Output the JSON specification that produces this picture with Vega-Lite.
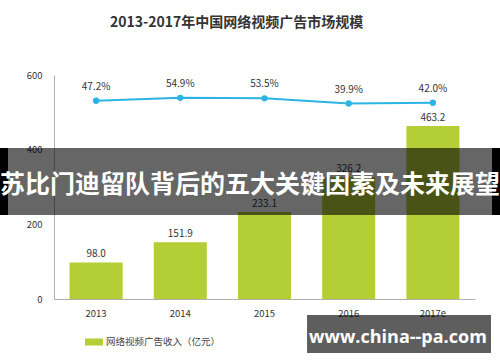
{
  "$schema": "https://vega.github.io/schema/vega-lite/v6.json",
  "width": 421,
  "height": 224,
  "autosize": {"type": "none"},
  "padding": {"left": 54, "top": 75, "right": 25, "bottom": 63},
  "background": "white",
  "config": {"view": {"stroke": null}, "font": "Noto Sans CJK SC"},
  "title": {"text": "2013-2017年中国网络视频广告市场规模", "anchor": "start", "frame": "group", "dx": 56, "offset": 40, "fontSize": 14, "fontWeight": "bold", "color": "#333333", "font": "Noto Sans CJK SC"},
  "datasets": {
    "main": [
      {"year": "2013", "revenue": 98.0, "growth": 0.472},
      {"year": "2014", "revenue": 151.9, "growth": 0.549},
      {"year": "2015", "revenue": 233.1, "growth": 0.535},
      {"year": "2016", "revenue": 326.2, "growth": 0.399},
      {"year": "2017e", "revenue": 463.2, "growth": 0.420}
    ],
    "banner": [{"text": "苏比门迪留队背后的五大关键因素及未来展望"}],
    "watermark": [{"text": "www.china--pa.com"}]
  },
  "layer": [
    {
      "data": {"name": "main"},
      "encoding": {
        "x": {"field": "year", "type": "ordinal", "sort": null,
          "scale": {"paddingInner": 0.37, "paddingOuter": 0.185},
          "axis": {"title": null, "labelAngle": 0, "ticks": false, "domainColor": "#b0b0b0", "labelFontSize": 9.5, "labelColor": "#333333", "labelPadding": 9, "grid": false}}
      },
      "layer": [
        {
          "encoding": {"y": {"field": "revenue", "type": "quantitative", "scale": {"domain": [0, 600], "nice": false},
            "axis": {"title": null, "values": [0, 200, 400, 600], "ticks": false, "domainColor": "#b0b0b0", "labelFontSize": 9.5, "labelColor": "#333333", "labelPadding": 12, "grid": false}}},
          "layer": [
            {"mark": {"type": "bar"},
             "encoding": {"color": {"datum": "网络视频广告收入（亿元）", "scale": {"range": ["#b3cf35"]},
               "legend": {"orient": "none", "legendX": 31, "legendY": 258, "title": null, "symbolType": "M-1,-0.39H1V0.39H-1Z", "symbolSize": 324, "symbolStrokeWidth": 0, "labelFontSize": 9.5, "labelColor": "#444444", "labelFont": "Noto Sans CJK SC", "padding": 0, "labelOffset": 3}}}},
            {"mark": {"type": "text", "dy": -8, "fontSize": 10, "color": "#333333"},
             "encoding": {"text": {"field": "revenue", "type": "quantitative", "format": ".1f"}}}
          ]
        },
        {
          "encoding": {"y": {"field": "growth", "type": "quantitative", "scale": {"domain": [-4.75, 1.15], "nice": false, "zero": false}, "axis": null}},
          "layer": [
            {"mark": {"type": "line", "color": "#2ab5e4", "strokeWidth": 2}},
            {"mark": {"type": "point", "filled": true, "size": 40, "color": "#2ab5e4", "opacity": 1}},
            {"mark": {"type": "text", "dy": -14, "fontSize": 10, "color": "#333333"},
             "encoding": {"text": {"field": "growth", "type": "quantitative", "format": ".1%"}}}
          ]
        }
      ],
      "resolve": {"scale": {"y": "independent"}}
    },
    {
      "data": {"name": "banner"},
      "mark": {"type": "rect", "color": "#000000", "opacity": 0.6},
      "encoding": {
        "x": {"datum": -0.1283, "type": "quantitative", "scale": {"domain": [0, 1], "nice": false, "zero": false}, "axis": null},
        "x2": {"datum": 1.0594},
        "y": {"datum": 0.6741, "type": "quantitative", "scale": {"domain": [0, 1], "nice": false, "zero": false}, "axis": null},
        "y2": {"datum": 0.375}
      }
    },
    {
      "data": {"name": "banner"},
      "mark": {"type": "rect", "color": "#000000", "opacity": 1},
      "encoding": {
        "x": {"datum": -0.1283, "type": "quantitative", "scale": {"domain": [0, 1], "nice": false, "zero": false}, "axis": null},
        "x2": {"datum": -0.1093},
        "y": {"datum": 0.6741, "type": "quantitative", "scale": {"domain": [0, 1], "nice": false, "zero": false}, "axis": null},
        "y2": {"datum": 0.375}
      }
    },
    {
      "data": {"name": "banner"},
      "mark": {"type": "rect", "color": "#000000", "opacity": 1},
      "encoding": {
        "x": {"datum": 1.0404, "type": "quantitative", "scale": {"domain": [0, 1], "nice": false, "zero": false}, "axis": null},
        "x2": {"datum": 1.0594},
        "y": {"datum": 0.6741, "type": "quantitative", "scale": {"domain": [0, 1], "nice": false, "zero": false}, "axis": null},
        "y2": {"datum": 0.375}
      }
    },
    {
      "data": {"name": "banner"},
      "mark": {"type": "text", "color": "#ffffff", "fontSize": 25, "fontWeight": "bold", "font": "Noto Sans CJK SC", "baseline": "middle", "align": "center"},
      "encoding": {
        "x": {"datum": 0.4656, "type": "quantitative", "scale": {"domain": [0, 1], "nice": false, "zero": false}, "axis": null},
        "y": {"datum": 0.5089, "type": "quantitative", "scale": {"domain": [0, 1], "nice": false, "zero": false}, "axis": null},
        "text": {"field": "text"}
      }
    },
    {
      "data": {"name": "watermark"},
      "mark": {"type": "rect", "color": "#000000", "opacity": 0.63},
      "encoding": {
        "x": {"datum": 0.601, "type": "quantitative", "scale": {"domain": [0, 1], "nice": false, "zero": false}, "axis": null},
        "x2": {"datum": 1.038},
        "y": {"datum": -0.0714, "type": "quantitative", "scale": {"domain": [0, 1], "nice": false, "zero": false}, "axis": null},
        "y2": {"datum": -0.2411}
      }
    },
    {
      "data": {"name": "watermark"},
      "mark": {"type": "text", "color": "#ffffff", "fontSize": 18, "fontWeight": "bold", "font": "Open Sans", "baseline": "alphabetic", "align": "center"},
      "encoding": {
        "x": {"datum": 0.817, "type": "quantitative", "scale": {"domain": [0, 1], "nice": false, "zero": false}, "axis": null},
        "y": {"datum": -0.1964, "type": "quantitative", "scale": {"domain": [0, 1], "nice": false, "zero": false}, "axis": null},
        "text": {"field": "text"}
      }
    }
  ],
  "resolve": {"scale": {"x": "independent", "y": "independent"}}
}
